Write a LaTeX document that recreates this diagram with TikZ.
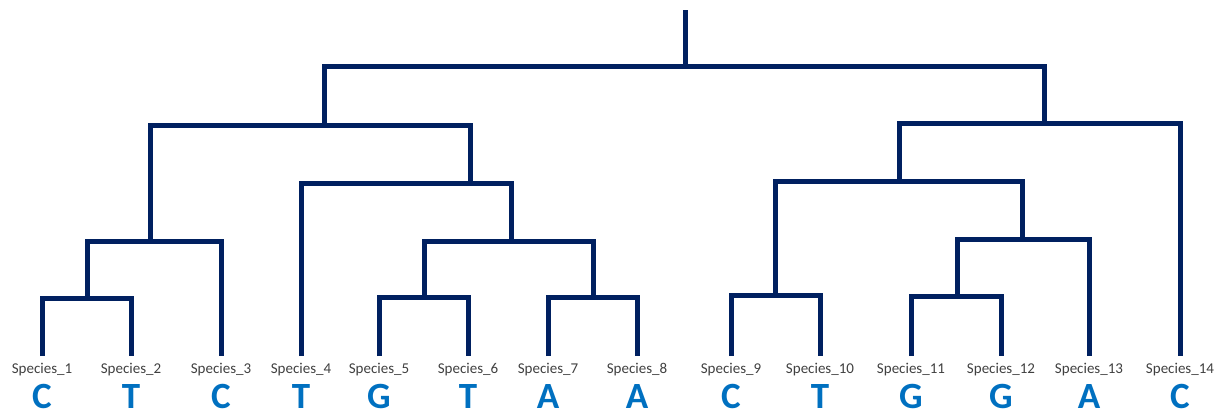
\documentclass[tikz,border=0pt]{standalone}
\usepackage{fontspec}
\setmainfont{Carlito}
\definecolor{treeblue}{HTML}{002060}
\definecolor{basecol}{HTML}{0070C0}
\definecolor{labgray}{HTML}{404040}
\tikzset{
  branch/.style={draw=treeblue, line width=5pt, line join=miter},
  splabel/.style={anchor=base, inner sep=0pt, text=labgray, font=\fontsize{15}{15}\selectfont},
  baselabel/.style={anchor=base, inner sep=0pt, text=basecol, font=\bfseries\fontsize{37}{37}\selectfont}
}
\begin{document}
\begin{tikzpicture}[x=1pt,y=-1pt]
\useasboundingbox (0,0) rectangle (1224,415);
% leaf tips
\foreach \i/\x in {1/42,2/131,3/221,4/301,5/379,6/468,7/548,8/637,9/731,10/820,11/911,12/1001,13/1089,14/1180}{
  \coordinate (l\i) at (\x,356);
}
% labels
\foreach \i/\x/\b in {1/42/C,2/131/T,3/221/C,4/301/T,5/379/G,6/468/T,7/548/A,8/637/A,9/731/C,10/820/T,11/911/G,12/1001/G,13/1089/A,14/1180/C}{
  \node[splabel] (s\i) at (\x,373) {Species\_\i};
  \node[baselabel] (b\i) at (\x,408) {\b};
}
% internal nodes
\coordinate (top) at (685,10);
\coordinate (root) at (685,66);
\coordinate (L) at (324,125);
\coordinate (A) at (150,241);
\coordinate (n12) at (87,298);
\coordinate (B) at (470,183);
\coordinate (C) at (511,241);
\coordinate (n56) at (424,297);
\coordinate (n78) at (593,297);
\coordinate (R) at (1044,123);
\coordinate (D) at (899,181);
\coordinate (n910) at (775,295);
\coordinate (E) at (1022,239);
\coordinate (n1112) at (957,296);
% branches
\draw[branch] (top) -- (root);
\draw[branch] (L) |- (root) -| (R);
\draw[branch] (A) |- (L) -| (B);
\draw[branch] (n12) |- (A) -| (l3);
\draw[branch] (l1) |- (n12) -| (l2);
\draw[branch] (l4) |- (B) -| (C);
\draw[branch] (n56) |- (C) -| (n78);
\draw[branch] (l5) |- (n56) -| (l6);
\draw[branch] (l7) |- (n78) -| (l8);
\draw[branch] (D) |- (R) -| (l14);
\draw[branch] (n910) |- (D) -| (E);
\draw[branch] (l9) |- (n910) -| (l10);
\draw[branch] (n1112) |- (E) -| (l13);
\draw[branch] (l11) |- (n1112) -| (l12);
\end{tikzpicture}
\end{document}
